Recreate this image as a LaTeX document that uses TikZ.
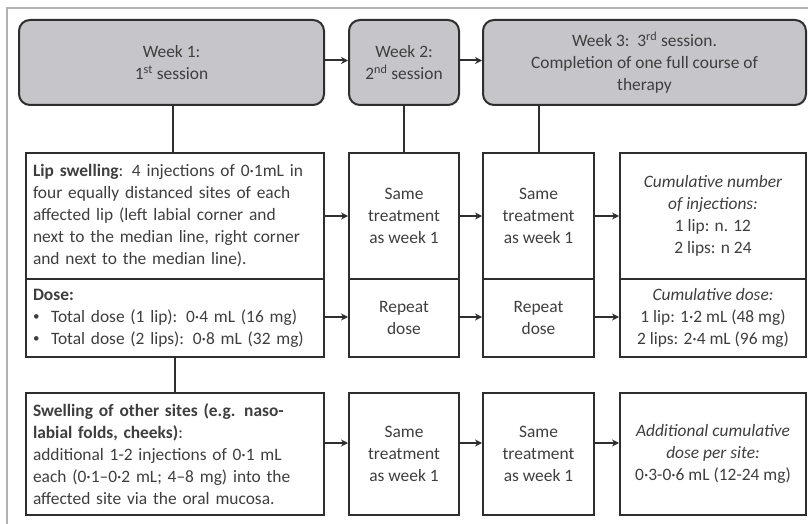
\documentclass[tikz,border=0pt]{standalone}
\usepackage{fontspec}
\setmainfont{Carlito}
\usetikzlibrary{arrows.meta}
\definecolor{txt}{HTML}{3E3E3E}
\definecolor{bord}{HTML}{2E2E2E}
\definecolor{hdr}{HTML}{C6C6CA}
\newcommand{\mybul}{\raisebox{1.5pt}{\fontsize{13}{22}\selectfont\textbullet}\ \ }
\tikzset{
  box/.style={draw=bord, line width=2pt, text=txt, inner sep=0pt, align=center,
    font=\fontsize{17.4}{22}\selectfont},
  lbox/.style={box, text width=284pt, align=left},
  hdrbox/.style={box, fill=hdr, rounded corners=11pt},
  conn/.style={draw=bord, line width=2pt},
  arr/.style={conn, -{Stealth[length=7pt,width=7pt]}},
}
\begin{document}
\begin{tikzpicture}[x=1pt,y=-1pt]
\useasboundingbox (0,0) rectangle (808,524);
\draw[black!30, line width=2pt] (7,524) -- (7,8) -- (808,8);
% headers
\node[hdrbox, minimum width=305pt, minimum height=85pt] (w1) at (171.5,62.5) {Week 1:\\1\textsuperscript{st} session};
\node[hdrbox, minimum width=110pt, minimum height=85pt] (w2) at (404,62.5) {Week 2:\\2\textsuperscript{nd} session};
\node[hdrbox, minimum width=323pt, minimum height=85pt] (w3) at (644.5,62.5) {Week 3:\ \ 3\textsuperscript{rd} session.\\Completion of one full course of\\therapy};
% row 1
\node[lbox, minimum width=298pt, minimum height=126pt] (a1) at (175,216)
 {\textbf{Lip swelling}: 4 injections of 0·1mL in\\four equally distanced sites of each\\affected lip (left labial corner and\\next to the median line, right corner\\and next to the median line).};
\node[box, minimum width=110pt, minimum height=126pt] (b1) at (404,216) {Same\\treatment\\as week 1};
\node[box, minimum width=111pt, minimum height=126pt] (c1) at (538.5,216) {Same\\treatment\\as week 1};
\node[box, minimum width=186pt, minimum height=126pt] (d1) at (713,216) {\textit{Cumulative number}\\\textit{of injections:}\\1 lip: n. 12\\2 lips: n 24};
% row 2
\node[lbox, minimum width=298pt, minimum height=78pt] (a2) at (175,318)
 {\textbf{Dose:}\\\mybul Total dose (1 lip): 0·4 mL (16 mg)\\\mybul Total dose (2 lips): 0·8 mL (32 mg)};
\node[box, minimum width=110pt, minimum height=78pt] (b2) at (404,318) {Repeat\\dose};
\node[box, minimum width=111pt, minimum height=78pt] (c2) at (538.5,318) {Repeat\\dose};
\node[box, minimum width=186pt, minimum height=78pt] (d2) at (713,318) {\textit{Cumulative dose:}\\1 lip: 1·2 mL (48 mg)\\2 lips: 2·4 mL (96 mg)};
% row 3
\node[lbox, minimum width=298pt, minimum height=122pt] (a3) at (175,454)
 {\textbf{Swelling of other sites (e.g. naso-}\\\textbf{labial folds, cheeks)}:\\additional 1-2 injections of 0·1 mL\\each (0·1–0·2 mL; 4–8 mg) into the\\affected site via the oral mucosa.};
\node[box, minimum width=110pt, minimum height=122pt] (b3) at (404,454) {Same\\treatment\\as week 1};
\node[box, minimum width=111pt, minimum height=122pt] (c3) at (538.5,454) {Same\\treatment\\as week 1};
\node[box, minimum width=186pt, minimum height=122pt] (d3) at (713,454) {\textit{Additional cumulative}\\\textit{dose per site:}\\0·3-0·6 mL (12-24 mg)};
% connectors
\draw[arr] ([yshift=2pt]w1.east) -- ([yshift=2pt]w2.west);
\draw[arr] ([yshift=2pt]w2.east) -- ([yshift=2pt]w3.west);
\draw[conn] (w1.south -| 173,0) -- (a1.north -| 173,0);
\draw[conn] (w2.south) -- (b1.north);
\draw[conn] (w3.south -| c1.north) -- (c1.north);
\draw[conn] (a2.south) -- (a3.north);
\draw[arr] (a1.east) -- (b1.west);
\draw[arr] (b1.east) -- (c1.west);
\draw[arr] (c1.east) -- (d1.west);
\draw[arr] ([yshift=1pt]a2.east) -- ([yshift=1pt]b2.west);
\draw[arr] ([yshift=1pt]b2.east) -- ([yshift=1pt]c2.west);
\draw[arr] ([yshift=1pt]c2.east) -- ([yshift=1pt]d2.west);
\draw[arr] ([yshift=11pt]a3.east) -- ([yshift=11pt]b3.west);
\draw[arr] ([yshift=11pt]b3.east) -- ([yshift=11pt]c3.west);
\draw[arr] ([yshift=11pt]c3.east) -- ([yshift=11pt]d3.west);
\end{tikzpicture}
\end{document}
